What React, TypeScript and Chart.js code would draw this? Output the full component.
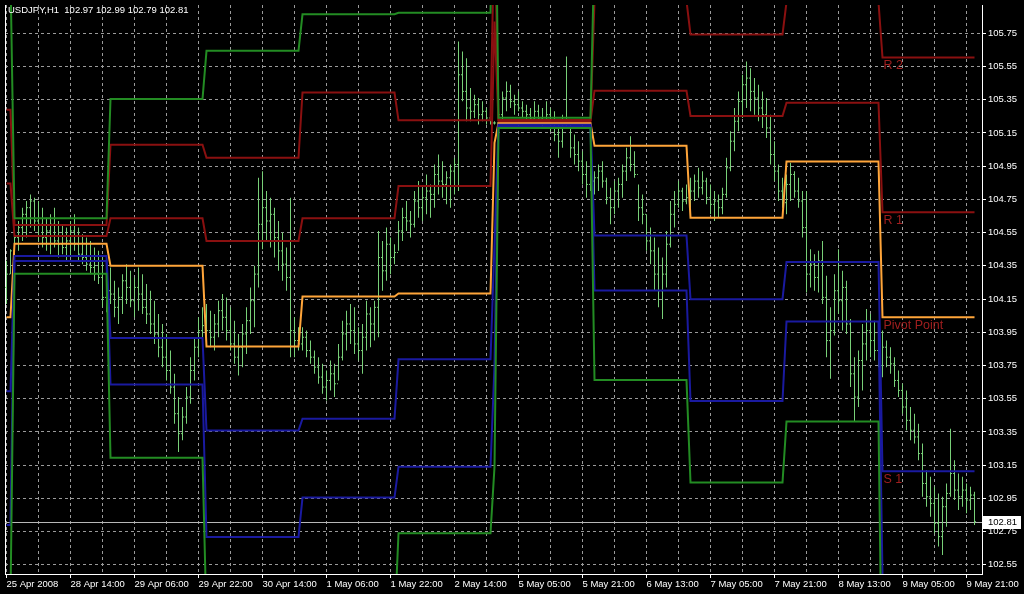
import React, { useEffect, useRef } from 'react';
import { Chart, registerables } from 'chart.js';

Chart.register(...registerables);

// ---------------- data ----------------
const symbolName = 'USDJPY,H1';

const xTickLabels = [
  '25 Apr 2008', '28 Apr 14:00', '29 Apr 06:00', '29 Apr 22:00', '30 Apr 14:00', '1 May 06:00',
  '1 May 22:00', '2 May 14:00', '5 May 05:00', '5 May 21:00', '6 May 13:00', '7 May 05:00',
  '7 May 21:00', '8 May 13:00', '9 May 05:00', '9 May 21:00',
];
const barsPerLabel = 16;
const barsPerGrid = 8;

const yTickLabels = [
  '102.55', '102.75', '102.95', '103.15', '103.35', '103.55', '103.75', '103.95', '104.15',
  '104.35', '104.55', '104.75', '104.95', '105.15', '105.35', '105.55', '105.75',
];

// trading days shown, number of H1 bars of each day
const dayNames = ['25 Apr', '28 Apr', '29 Apr', '30 Apr', '1 May', '2 May', '4 May', '5 May', '6 May', '7 May', '8 May', '9 May'];
const barsPerDay = [2, 24, 24, 24, 24, 24, 1, 24, 24, 24, 24, 24];

// daily pivot levels
const pivotR3 = [106.095, 104.636, 105.354, 105.644, 105.864, 105.873, 107.16, 105.242, 106.275, 106.355, 106.29, 106.23];
const pivotR2 = [105.29, 104.596, 105.079, 105.0, 105.393, 105.226, 106.43, 105.228, 105.944, 105.743, 105.937, 105.604];
const pivotR1 = [104.845, 104.529, 104.636, 104.5, 104.636, 104.83, 105.82, 105.22, 105.404, 105.252, 105.332, 104.672];
const pivotPP = [104.04, 104.483, 104.35, 103.865, 104.165, 104.183, 105.09, 105.209, 105.073, 104.64, 104.978, 104.04];
const pivotS1 = [103.595, 104.409, 103.916, 103.359, 103.43, 103.787, 104.48, 105.199, 104.533, 104.149, 104.373, 103.114];
const pivotS2 = [102.79, 104.379, 103.635, 102.717, 102.955, 103.14, 103.75, 105.19, 104.202, 103.536, 104.015, 102.48];
const pivotS3 = [102.345, 104.302, 103.194, 102.218, 102.18, 102.74, 103.14, 105.18, 103.662, 103.046, 103.413, 101.556];

// hourly bars
const highs = [
  104.38, 104.45,
  104.56, 104.62, 104.70, 104.74, 104.78, 104.76, 104.74, 104.70, 104.64, 104.66, 104.70, 104.62, 104.60, 104.58, 104.62, 104.66, 104.58, 104.54, 104.52, 104.50, 104.46, 104.44, 104.40, 104.34,
  104.34, 104.26, 104.22, 104.30, 104.36, 104.32, 104.28, 104.34, 104.30, 104.24, 104.20, 104.14, 104.06, 104.00, 103.94, 103.84, 103.70, 103.56, 103.50, 103.62, 103.80, 103.92, 104.04, 104.10,
  104.12, 104.08, 104.06, 104.14, 104.18, 104.16, 104.10, 104.02, 103.94, 104.00, 104.10, 104.22, 104.35, 104.88, 104.92, 104.80, 104.76, 104.70, 104.62, 104.55, 104.46, 104.76, 104.04, 103.98,
  103.98, 103.96, 103.90, 103.84, 103.80, 103.76, 103.72, 103.78, 103.76, 103.88, 104.02, 104.08, 104.12, 104.10, 103.98, 104.00, 104.14, 104.10, 104.14, 104.56, 104.50, 104.58, 104.52, 104.48,
  104.62, 104.70, 104.74, 104.68, 104.80, 104.86, 104.82, 104.90, 104.84, 104.96, 105.02, 104.98, 104.92, 104.96, 105.00, 105.70, 105.64, 105.60, 105.42, 105.38, 105.36, 105.34, 105.30, 105.28,
  105.22,
  105.30, 105.40, 105.46, 105.44, 105.38, 105.40, 105.34, 105.32, 105.30, 105.34, 105.32, 105.30, 105.34, 105.30, 105.28, 105.22, 105.26, 105.61, 105.20, 105.14, 105.10, 105.04, 104.98, 104.94,
  104.92, 104.96, 104.98, 104.88, 104.82, 104.86, 104.88, 104.96, 105.06, 105.13, 105.04, 104.84, 104.78, 104.66, 104.58, 104.52, 104.46, 104.40, 104.56, 104.74, 104.80, 104.86, 104.82, 104.84,
  104.88, 104.90, 104.94, 104.92, 104.88, 104.84, 104.80, 104.78, 104.82, 105.00, 105.16, 105.30, 105.40, 105.50, 105.58, 105.54, 105.48, 105.44, 105.40, 105.36, 105.26, 105.10, 104.96, 104.88,
  104.90, 104.97, 104.92, 104.88, 104.80, 104.80, 104.45, 104.42, 104.44, 104.50, 104.29, 104.10, 104.30, 104.45, 104.32, 104.26, 104.03, 103.80, 103.84, 104.00, 104.09, 104.06, 104.02, 103.96,
  103.96, 103.90, 103.86, 103.80, 103.72, 103.64, 103.60, 103.50, 103.46, 103.40, 103.28, 103.12, 103.08, 103.02, 102.98, 102.96, 103.04, 103.37, 103.18, 103.10, 103.08, 103.04, 103.02, 102.99,
];
const lows = [
  104.12, 104.30,
  104.38, 104.44, 104.50, 104.52, 104.58, 104.56, 104.50, 104.46, 104.44, 104.42, 104.46, 104.40, 104.42, 104.38, 104.40, 104.44, 104.38, 104.36, 104.32, 104.30, 104.26, 104.24, 104.10, 104.07,
  104.12, 104.04, 104.00, 104.06, 104.12, 104.10, 104.04, 104.08, 104.06, 104.00, 103.94, 103.88, 103.80, 103.74, 103.66, 103.58, 103.40, 103.23, 103.30, 103.40, 103.52, 103.66, 103.80, 103.92,
  103.88, 103.86, 103.84, 103.92, 103.96, 103.90, 103.84, 103.76, 103.69, 103.74, 103.82, 103.94, 103.98, 104.22, 104.45, 104.50, 104.46, 104.40, 104.32, 104.26, 104.20, 103.80, 103.80, 103.84,
  103.84, 103.80, 103.76, 103.70, 103.64, 103.58, 103.54, 103.60, 103.56, 103.66, 103.78, 103.84, 103.88, 103.82, 103.78, 103.70, 103.84, 103.86, 103.90, 103.92, 104.20, 104.26, 104.30, 104.36,
  104.44, 104.50, 104.56, 104.52, 104.58, 104.64, 104.62, 104.66, 104.64, 104.70, 104.78, 104.76, 104.72, 104.70, 104.78, 104.80, 105.34, 105.22, 105.22, 105.24, 105.20, 105.22, 105.20, 105.20,
  105.20,
  105.16, 105.20, 105.28, 105.30, 105.26, 105.28, 105.24, 105.22, 105.20, 105.22, 105.20, 105.18, 105.20, 105.16, 105.10, 105.00, 105.06, 105.18, 105.00, 104.96, 104.92, 104.84, 104.76, 104.80,
  104.78, 104.80, 104.82, 104.72, 104.60, 104.66, 104.70, 104.76, 104.86, 104.92, 104.88, 104.62, 104.60, 104.44, 104.36, 104.20, 104.10, 104.03, 104.22, 104.46, 104.58, 104.70, 104.68, 104.72,
  104.70, 104.74, 104.76, 104.78, 104.72, 104.66, 104.62, 104.64, 104.66, 104.76, 104.92, 105.04, 105.16, 105.24, 105.30, 105.28, 105.26, 105.22, 105.18, 105.12, 104.96, 104.86, 104.74, 104.70,
  104.66, 104.74, 104.76, 104.70, 104.52, 104.19, 104.22, 104.20, 104.19, 104.12, 103.80, 103.67, 103.93, 104.06, 103.96, 103.94, 103.62, 103.41, 103.50, 103.60, 103.78, 103.80, 103.78, 103.74,
  103.68, 103.74, 103.70, 103.62, 103.56, 103.46, 103.36, 103.30, 103.28, 103.18, 102.96, 102.90, 102.84, 102.74, 102.66, 102.61, 102.78, 102.96, 102.94, 102.88, 102.90, 102.86, 102.88, 102.79,
];
const closes = [
  104.30, 104.44,
  104.52, 104.58, 104.66, 104.70, 104.74, 104.62, 104.60, 104.52, 104.56, 104.60, 104.50, 104.48, 104.46, 104.50, 104.56, 104.48, 104.42, 104.40, 104.36, 104.34, 104.30, 104.28, 104.16, 104.20,
  104.18, 104.10, 104.16, 104.26, 104.22, 104.14, 104.22, 104.18, 104.10, 104.06, 104.00, 103.94, 103.86, 103.80, 103.72, 103.62, 103.46, 103.34, 103.44, 103.56, 103.72, 103.86, 103.96, 103.99,
  103.96, 103.92, 104.00, 104.08, 104.04, 103.96, 103.88, 103.80, 103.86, 103.94, 104.02, 104.14, 104.30, 104.60, 104.70, 104.62, 104.66, 104.52, 104.44, 104.36, 104.28, 103.96, 103.90, 103.88,
  103.92, 103.84, 103.80, 103.74, 103.68, 103.62, 103.66, 103.70, 103.64, 103.80, 103.94, 104.00, 103.96, 103.88, 103.84, 103.92, 104.06, 104.00, 104.10, 104.40, 104.32, 104.48, 104.40, 104.43,
  104.56, 104.64, 104.62, 104.60, 104.74, 104.70, 104.76, 104.80, 104.78, 104.90, 104.86, 104.84, 104.88, 104.92, 104.96, 105.50, 105.40, 105.30, 105.28, 105.32, 105.26, 105.28, 105.24, 105.21,
  105.21,
  105.26, 105.36, 105.40, 105.34, 105.32, 105.30, 105.28, 105.26, 105.24, 105.28, 105.24, 105.22, 105.26, 105.20, 105.14, 105.10, 105.20, 105.18, 105.06, 105.02, 104.98, 104.90, 104.84, 104.86,
  104.88, 104.92, 104.86, 104.76, 104.70, 104.80, 104.84, 104.92, 105.00, 104.96, 104.90, 104.70, 104.66, 104.50, 104.44, 104.30, 104.20, 104.30, 104.48, 104.66, 104.72, 104.80, 104.74, 104.76,
  104.80, 104.86, 104.82, 104.86, 104.76, 104.72, 104.74, 104.70, 104.78, 104.94, 105.10, 105.22, 105.34, 105.44, 105.48, 105.40, 105.36, 105.30, 105.26, 105.18, 105.02, 104.92, 104.80, 104.73,
  104.84, 104.90, 104.80, 104.74, 104.58, 104.30, 104.36, 104.28, 104.38, 104.16, 103.90, 103.96, 104.20, 104.14, 104.22, 104.00, 103.70, 103.56, 103.78, 103.88, 103.96, 103.90, 103.84, 103.75,
  103.86, 103.80, 103.76, 103.66, 103.60, 103.50, 103.42, 103.36, 103.32, 103.22, 103.04, 102.96, 102.92, 102.80, 102.72, 102.90, 102.98, 103.10, 103.00, 102.96, 103.00, 102.94, 102.97, 102.81,
];
// open of the first bar; every other bar opens at the previous bar's close
const firstOpen = 104.22;

// ---------------- styles ----------------
const FONT = '"Liberation Sans", Arial, sans-serif';
const GRID = '#9a9a9a';
const BAR = '#78d078';
const RED = '#8a1010';
const BLUE = '#1a1aa0';
const GREEN = '#238c23';
const ORANGE = '#ffa53a';
const LABEL_RED = '#a01e1e';

export default function App() {
  const ref = useRef<HTMLCanvasElement | null>(null);

  useEffect(() => {
    const canvas = ref.current;
    if (!canvas) return;

    const barDay: number[] = [];
    barsPerDay.forEach((n, d) => {
      for (let k = 0; k < n; k++) barDay.push(d);
    });
    const opens = closes.map((c, i) => (i === 0 ? firstOpen : closes[i - 1]));
    const levelData = (vals: number[]) => barDay.map((d, i) => ({ x: i, y: vals[d] }));
    const lastIdx = highs.length - 1;
    const lastDay = barDay[lastIdx];
    const lastDayStart = barDay.indexOf(lastDay);

    const xTickValues: number[] = [];
    for (let v = 0; v <= (xTickLabels.length - 1) * barsPerLabel; v += barsPerGrid) xTickValues.push(v);
    const yTickValues = yTickLabels.map(Number);

    const levels = [
      { name: 'R 3', vals: pivotR3, color: GREEN },
      { name: 'R 2', vals: pivotR2, color: RED },
      { name: 'R 1', vals: pivotR1, color: RED },
      { name: 'Pivot Point', vals: pivotPP, color: ORANGE },
      { name: 'S 1', vals: pivotS1, color: BLUE },
      { name: 'S 2', vals: pivotS2, color: BLUE },
      { name: 'S 3', vals: pivotS3, color: GREEN },
    ];

    const overlay = {
      id: 'mtOverlay',
      beforeDatasetsDraw(chart: any) {
        const { ctx, chartArea: a, scales } = chart;
        const y = Math.round(scales.y.getPixelForValue(closes[lastIdx])) + 0.5;
        ctx.save();
        ctx.strokeStyle = '#b8b8b8';
        ctx.lineWidth = 1;
        ctx.beginPath();
        ctx.moveTo(a.left, y);
        ctx.lineTo(a.right, y);
        ctx.stroke();
        ctx.restore();
      },
      afterDatasetsDraw(chart: any) {
        const { ctx, scales } = chart;
        const ys = scales.y;
        const x = scales.x.getPixelForValue(lastDayStart) + 1;
        ctx.save();
        ctx.font = `12.5px ${FONT}`;
        ctx.fillStyle = LABEL_RED;
        ctx.textBaseline = 'top';
        ctx.textAlign = 'left';
        levels.forEach((l) => {
          const v = l.vals[lastDay];
          if (v < ys.min || v > ys.max) return;
          ctx.fillText(l.name, x, ys.getPixelForValue(v) + 2);
        });
        ctx.restore();
      },
      afterDraw(chart: any) {
        const { ctx, chartArea: a, scales } = chart;
        ctx.save();
        // title
        const title = `${symbolName}  ${opens[lastIdx].toFixed(2)} ${highs[lastIdx].toFixed(2)} ${lows[lastIdx].toFixed(2)} ${closes[lastIdx].toFixed(2)}`;
        ctx.font = `9.5px ${FONT}`;
        ctx.fillStyle = '#ffffff';
        ctx.textBaseline = 'alphabetic';
        ctx.textAlign = 'left';
        ctx.fillText(title, 8, 13);
        // price box
        const y = Math.round(scales.y.getPixelForValue(closes[lastIdx]));
        ctx.fillStyle = '#ffffff';
        ctx.fillRect(a.right + 1, y - 6, 38, 13);
        ctx.fillStyle = '#000000';
        ctx.textBaseline = 'middle';
        ctx.fillText(closes[lastIdx].toFixed(2), a.right + 6, y + 0.5);
        ctx.restore();
      },
    };

    const lineDs = (label: string, vals: number[], color: string) => ({
      type: 'line' as const,
      label,
      data: levelData(vals),
      borderColor: color,
      backgroundColor: color,
      borderWidth: 2,
      pointRadius: 0,
      tension: 0,
      fill: false,
      order: 1,
    });

    const tickFont = { family: FONT, size: 9.5 };

    const chart = new Chart(canvas, {
      type: 'line',
      data: {
        datasets: [
          {
            type: 'bar',
            label: 'HL',
            data: highs.map((h, i) => ({ x: i, y: [lows[i], h] })) as any,
            backgroundColor: BAR,
            borderWidth: 0,
            barThickness: 1,
            grouped: false,
            inflateAmount: 0,
            order: 5,
          } as any,
          {
            type: 'scatter',
            label: 'Open',
            data: opens.map((o, i) => ({ x: i - 0.25, y: o })),
            pointStyle: 'line',
            pointRadius: 0.5,
            pointBorderColor: BAR,
            pointBackgroundColor: BAR,
            pointBorderWidth: 1,
            order: 4,
          } as any,
          {
            type: 'scatter',
            label: 'Close',
            data: closes.map((c, i) => ({ x: i + 0.25, y: c })),
            pointStyle: 'line',
            pointRadius: 0.5,
            pointBorderColor: BAR,
            pointBackgroundColor: BAR,
            pointBorderWidth: 1,
            order: 4,
          } as any,
          lineDs('S 3', pivotS3, GREEN),
          lineDs('R 3', pivotR3, GREEN),
          lineDs('S 2', pivotS2, BLUE),
          lineDs('S 1', pivotS1, BLUE),
          lineDs('R 2', pivotR2, RED),
          lineDs('R 1', pivotR1, RED),
          lineDs('Pivot Point', pivotPP, ORANGE),
        ],
      },
      options: {
        animation: false,
        responsive: false,
        devicePixelRatio: 1,
        events: [],
        layout: { padding: { left: 5, top: 0, right: 0, bottom: 0 } },
        plugins: { legend: { display: false }, tooltip: { enabled: false }, title: { display: false } },
        scales: {
          x: {
            type: 'linear',
            position: 'bottom',
            min: -0.375,
            max: 243.875,
            offset: false,
            afterBuildTicks: (s: any) => {
              s.ticks = xTickValues.map((v) => ({ value: v }));
            },
            afterFit: (s: any) => {
              s.height = 20;
              s.paddingLeft = 0;
              s.paddingRight = 0;
            },
            ticks: {
              autoSkip: false,
              maxRotation: 0,
              minRotation: 0,
              align: 'start',
              color: '#ffffff',
              font: tickFont,
              padding: 1,
              callback: (v: any) => (Number(v) % barsPerLabel === 0 ? xTickLabels[Number(v) / barsPerLabel] : ''),
            },
            grid: {
              color: GRID,
              lineWidth: 1,
              offset: false,
              drawTicks: true,
              tickLength: 4,
              tickWidth: 1,
              tickColor: (c: any) => (c.tick && c.tick.value % barsPerLabel === 0 ? '#ffffff' : 'rgba(0,0,0,0)'),
              tickBorderDash: [],
              borderDash: [3, 3],
            } as any,
            border: { display: true, color: '#ffffff', width: 1, dash: [3, 3] },
          } as any,
          y: {
            type: 'linear',
            position: 'right',
            min: 102.495,
            max: 105.92,
            afterBuildTicks: (s: any) => {
              s.ticks = yTickValues.map((v) => ({ value: v }));
            },
            afterFit: (s: any) => {
              s.width = 42;
              s.paddingTop = 0;
              s.paddingBottom = 0;
            },
            ticks: {
              color: '#ffffff',
              font: tickFont,
              padding: 2,
              callback: (v: any) => Number(v).toFixed(2),
            },
            grid: {
              color: GRID,
              lineWidth: 1,
              drawTicks: true,
              tickLength: 4,
              tickWidth: 1,
              tickColor: '#ffffff',
              tickBorderDash: [],
              borderDash: [3, 3],
            } as any,
            border: { display: true, color: '#ffffff', width: 1, dash: [3, 3] },
          } as any,
          yL: {
            type: 'linear',
            position: 'left',
            display: true,
            min: 0,
            max: 1,
            ticks: { display: false },
            grid: { drawOnChartArea: false, drawTicks: false },
            border: { display: true, color: '#ffffff', width: 1 },
            afterFit: (s: any) => {
              s.width = 0;
              s.paddingTop = 0;
              s.paddingBottom = 0;
            },
          } as any,
        },
      } as any,
      plugins: [overlay],
    });

    return () => chart.destroy();
  }, []);

  return (
    <div style={{ position: 'fixed', left: 0, top: 0, width: 1024, height: 594, background: '#000000' }}>
      <canvas ref={ref} width={1024} height={594} style={{ display: 'block', width: 1024, height: 594 }} />
    </div>
  );
}
